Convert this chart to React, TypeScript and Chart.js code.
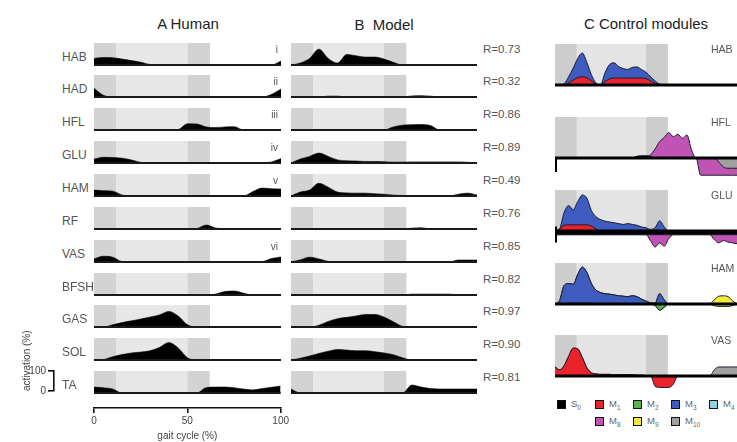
import React, { useEffect, useRef } from 'react';
import { Chart, registerables } from 'chart.js';

Chart.register(...registerables);

const FONT = "'Liberation Sans', Arial, Helvetica, sans-serif";

// ---------------- data ----------------
const GAIT_AB = [0, 5, 10, 15, 20, 25, 30, 35, 40, 45, 50, 55, 60, 65, 70, 75, 80, 85, 90, 95, 100];
const GAIT_C = [0, 2.5, 5, 7.5, 10, 12.5, 15, 17.5, 20, 22.5, 25, 27.5, 30, 32.5, 35, 37.5, 40, 42.5, 45, 47.5, 50,
  52.5, 55, 57.5, 60, 62.5, 65, 67.5, 70, 72.5, 75, 77.5, 80, 82.5, 85, 87.5, 90, 92.5, 95, 97.5, 100];

const MUSCLES = ['HAB', 'HAD', 'HFL', 'GLU', 'HAM', 'RF', 'VAS', 'BFSH', 'GAS', 'SOL', 'TA'];
const R_VALUES = ['R=0.73', 'R=0.32', 'R=0.86', 'R=0.89', 'R=0.49', 'R=0.76', 'R=0.85', 'R=0.82', 'R=0.97', 'R=0.90', 'R=0.81'];
const ROMAN = ['i', 'ii', 'iii', 'iv', 'v', '', 'vi', '', '', '', ''];
const X_TICKS = [0, 50, 100];

// Human EMG (activation %)
const HUMAN_HAB = [30, 34, 33, 27, 20, 13, 2, 0, 0, 0, 0, 0, 0, 0, 0, 0, 0, 0, 0, 0, 18];
const HUMAN_HAD = [40, 8, 0, 0, 0, 0, 0, 0, 0, 0, 0, 0, 0, 0, 0, 0, 0, 0, 0, 12, 36];
const HUMAN_HFL = [0, 0, 0, 0, 0, 0, 0, 0, 0, 2, 28, 27, 14, 11, 14, 15, 0, 0, 0, 0, 0];
const HUMAN_GLU = [18, 26, 25, 22, 14, 3, 0, 0, 0, 0, 0, 0, 0, 0, 0, 0, 0, 0, 0, 5, 20];
const HUMAN_HAM = [27, 24, 22, 5, 0, 0, 0, 0, 0, 0, 0, 0, 0, 0, 0, 0, 0, 20, 36, 33, 32];
const HUMAN_RF = [0, 0, 0, 0, 0, 0, 0, 0, 0, 0, 0, 2, 18, 5, 0, 0, 0, 0, 0, 0, 0];
const HUMAN_VAS = [14, 26, 22, 2, 0, 0, 0, 0, 0, 0, 0, 0, 0, 0, 0, 0, 0, 0, 2, 16, 23];
const HUMAN_BFSH = [0, 0, 0, 0, 0, 0, 0, 0, 0, 0, 0, 0, 0, 4, 16, 18, 8, 0, 0, 0, 0];
const HUMAN_GAS = [0, 0, 10, 20, 28, 36, 45, 55, 71, 50, 10, 0, 0, 0, 0, 0, 0, 0, 0, 0, 0];
const HUMAN_SOL = [0, 2, 15, 25, 32, 36, 42, 57, 79, 55, 10, 0, 0, 0, 0, 0, 0, 0, 0, 0, 0];
const HUMAN_TA = [27, 24, 18, 0, 0, 0, 0, 0, 0, 0, 0, 0, 24, 27, 27, 24, 18, 14, 20, 26, 32];

// Model muscle activations (activation %)
const MODEL_HAB = [0, 9, 30, 72, 30, 9, 48, 42, 36, 36, 27, 12, 0, 0, 0, 0, 0, 0, 0, 0, 0];
const MODEL_HAD = [0, 0, 0, 0, 4, 4, 0, 0, 0, 0, 0, 0, 0, 5, 6, 4, 0, 0, 0, 0, 0];
const MODEL_HFL = [0, 0, 0, 0, 0, 0, 0, 0, 0, 0, 0, 14, 22, 24, 25, 20, 0, 0, 0, 0, 0];
const MODEL_GLU = [0, 18, 30, 45, 30, 14, 10, 9, 7, 7, 6, 4, 4, 5, 5, 5, 5, 5, 5, 3, 0];
const MODEL_HAM = [0, 18, 27, 58, 40, 18, 14, 13, 13, 10, 8, 4, 2, 0, 0, 0, 0, 0, 8, 13, 5];
const MODEL_RF = [0, 0, 0, 0, 0, 0, 0, 0, 0, 0, 0, 0, 0, 4, 6, 0, 0, 0, 0, 0, 0];
const MODEL_VAS = [0, 10, 22, 14, 3, 0, 0, 0, 0, 0, 0, 0, 0, 0, 0, 0, 0, 0, 9, 9, 9];
const MODEL_BFSH = [0, 0, 0, 0, 0, 0, 0, 0, 0, 0, 0, 0, 0, 4, 4, 4, 4, 4, 0, 0, 0];
const MODEL_GAS = [0, 0, 0, 8, 25, 38, 44, 50, 57, 57, 45, 24, 3, 0, 0, 0, 0, 0, 0, 0, 0];
const MODEL_SOL = [0, 8, 18, 30, 40, 48, 45, 42, 42, 38, 32, 24, 10, 0, 0, 0, 0, 0, 0, 0, 0];
const MODEL_TA = [18, 0, 0, 0, 0, 0, 0, 0, 0, 0, 0, 0, 0, 36, 27, 20, 18, 18, 18, 18, 18];

const HUMAN = [HUMAN_HAB, HUMAN_HAD, HUMAN_HFL, HUMAN_GLU, HUMAN_HAM, HUMAN_RF, HUMAN_VAS, HUMAN_BFSH, HUMAN_GAS, HUMAN_SOL, HUMAN_TA];
const MODEL = [MODEL_HAB, MODEL_HAD, MODEL_HFL, MODEL_GLU, MODEL_HAM, MODEL_RF, MODEL_VAS, MODEL_BFSH, MODEL_GAS, MODEL_SOL, MODEL_TA];

// Control-module contributions (stacked)
const C_HAB_M1 = [0, 0, 0, 5, 12, 18, 20, 18, 10, 2, 0, 8, 15, 17, 17, 17, 17, 17, 17, 17, 16, 10, 4, 0, 0, 0, 0, 0, 0, 0, 0, 0, 0, 0, 0, 0, 0, 0, 0, 0, 0];
const C_HAB_M3 = [0, 0, 3, 15, 29, 47, 58, 37, 15, 3, 0, 22, 35, 37, 28, 23, 21, 26, 27, 21, 15, 10, 6, 2, 0, 0, 0, 0, 0, 0, 0, 0, 0, 0, 0, 0, 0, 0, 0, 0, 0];

const C_HFL_S0 = [0, 0, 0, 0, 0, 0, 0, 0, 0, 0, 0, 0, 0, 0, 0, 0, 0, 0, 4, 5, 5, 4, 0, 0, 0, 0, 0, 0, 0, 0, 0, 0, 0, 0, 0, 0, 0, 0, 0, 0, 0];
const C_HFL_M8_POS = [0, 0, 0, 0, 0, 0, 0, 0, 0, 0, 0, 0, 0, 0, 0, 0, 0, 0, 0, 0, 0, 4, 22, 40, 50, 62, 52, 58, 48, 56, 20, 0, 0, 0, 0, 0, 0, 0, 0, 0, 0];
const C_HFL_M10_NEG = [0, 0, 0, 0, 0, 0, 0, 0, 0, 0, 0, 0, 0, 0, 0, 0, 0, 0, 0, 0, 0, 0, 0, 0, 0, 0, 0, 0, 0, 0, 0, 0, 0, 0, 0, 0, -10, -22, -25, -25, -25];
const C_HFL_M8_NEG = [0, 0, 0, 0, 0, 0, 0, 0, 0, 0, 0, 0, 0, 0, 0, 0, 0, 0, 0, 0, 0, 0, 0, 0, 0, 0, 0, 0, 0, 0, 0, 0, -42, -42, -42, -42, -32, -20, -17, -17, -17];

const C_GLU_M1 = [0, 5, 14, 15, 15, 15, 15, 15, 12, 5, 0, 0, 0, 0, 0, 0, 0, 0, 0, 0, 0, 0, 0, 0, 0, 0, 0, 0, 0, 0, 0, 0, 0, 0, 0, 0, 0, 0, 0, 0, 0];
const C_GLU_M3 = [0, 0, 31, 47, 37, 57, 73, 65, 38, 30, 28, 24, 22, 20, 18, 16, 18, 16, 14, 10, 8, 4, 8, 25, 10, 0, 0, 0, 0, 0, 0, 0, 0, 0, 0, 0, 0, 0, 0, 0, 0];
const C_GLU_S0_NEG = [-9, -9, -9, -9, -9, -9, -9, -9, -9, -9, -9, -9, -9, -9, -9, -9, -9, -9, -9, -9, -9, -9, -9, -9, -9, -9, -9, -9, -9, -9, -9, -9, -9, -9, -9, -9, -9, -9, -9, -9, -9];
const C_GLU_M8_NEG = [0, 0, 0, 0, 0, 0, 0, 0, 0, 0, 0, 0, 0, 0, 0, 0, 0, 0, 0, 0, 0, -15, -30, -20, -28, -10, 0, 0, 0, 0, 0, 0, 0, 0, 0, -12, -20, -14, -18, -20, -22];

const C_HAM_M2_POS = [0, 0, 0, 2, 2, 2, 2, 2, 2, 0, 0, 0, 0, 0, 0, 0, 0, 0, 0, 0, 0, 0, 0, 0, 0, 0, 0, 0, 0, 0, 0, 0, 0, 0, 0, 0, 0, 0, 0, 0, 0];
const C_HAM_M3 = [0, 8, 45, 48, 46, 70, 88, 75, 48, 34, 28, 25, 24, 22, 20, 19, 18, 20, 18, 12, 7, 3, 2, 25, 10, 0, 0, 0, 0, 0, 0, 0, 0, 0, 0, 0, 0, 0, 0, 0, 0];
const C_HAM_M9_POS = [0, 0, 0, 0, 0, 0, 0, 0, 0, 0, 0, 0, 0, 0, 0, 0, 0, 0, 0, 0, 0, 0, 0, 0, 0, 0, 0, 0, 0, 0, 0, 0, 0, 0, 0, 10, 19, 20, 18, 8, 0];
const C_HAM_M2_NEG = [0, 0, 0, 0, 0, 0, 0, 0, 0, 0, 0, 0, 0, 0, 0, 0, 0, 0, 0, 0, 0, 0, -4, -15, -8, 0, 0, 0, 0, 0, 0, 0, 0, 0, 0, 0, 0, 0, 0, 0, 0];
const C_HAM_M9_NEG = [0, 0, 0, 0, 0, 0, 0, 0, 0, 0, 0, 0, 0, 0, 0, 0, 0, 0, 0, 0, 0, 0, 0, 0, 0, 0, 0, 0, 0, 0, 0, 0, 0, 0, 0, -4, -6, -6, -6, -4, 0];

const C_VAS_M1_POS = [22, 15, 25, 48, 68, 66, 45, 20, 8, 5, 4, 4, 4, 3, 3, 3, 3, 3, 2, 2, 1, 0, 0, 0, 0, 0, 0, 0, 0, 0, 0, 0, 0, 0, 0, 0, 0, 0, 0, 0, 0];
const C_VAS_M10_POS = [0, 0, 0, 0, 0, 0, 0, 0, 0, 0, 0, 0, 0, 0, 0, 0, 0, 0, 0, 0, 0, 0, 0, 0, 0, 0, 0, 0, 0, 0, 0, 0, 0, 0, 0, 15, 22, 22, 22, 22, 22];
const C_VAS_M1_NEG = [0, 0, 0, 0, 0, 0, 0, 0, 0, 0, 0, 0, 0, 0, 0, 0, 0, 0, 0, 0, 0, 0, -25, -28, -28, -28, -20, 0, 0, 0, 0, 0, 0, 0, 0, 0, 0, 0, 0, 0, 0];

const MODULE_KEYS = ['S0', 'M1', 'M2', 'M3', 'M4', 'M8', 'M9', 'M10'];
const MODULE_COLORS: Record<string, string> = {
  S0: '#000000', M1: '#e8232b', M2: '#5db04e', M3: '#3e5bbf', M4: '#8ed3dc',
  M8: '#c054b4', M9: '#f2ec3c', M10: '#a0a0a0',
};

type Layer = [number[], string, string];
const C_ROWS: { label: string; tick?: [number, number]; layers: Layer[] }[] = [
  { label: 'HAB', layers: [[C_HAB_M1, 'M1', 'pos'], [C_HAB_M3, 'M3', 'pos']] },
  { label: 'HFL', tick: [0, -34], layers: [[C_HFL_S0, 'S0', 'pos'], [C_HFL_M8_POS, 'M8', 'pos'], [C_HFL_M10_NEG, 'M10', 'neg'], [C_HFL_M8_NEG, 'M8', 'neg']] },
  { label: 'GLU', tick: [11, -28], layers: [[C_GLU_M1, 'M1', 'pos'], [C_GLU_M3, 'M3', 'pos'], [C_GLU_S0_NEG, 'S0', 'neg'], [C_GLU_M8_NEG, 'M8', 'neg']] },
  { label: 'HAM', layers: [[C_HAM_M2_POS, 'M2', 'pos'], [C_HAM_M3, 'M3', 'pos'], [C_HAM_M9_POS, 'M9', 'pos'], [C_HAM_M2_NEG, 'M2', 'neg'], [C_HAM_M9_NEG, 'M9', 'neg']] },
  { label: 'VAS', layers: [[C_VAS_M1_POS, 'M1', 'pos'], [C_VAS_M10_POS, 'M10', 'pos'], [C_VAS_M1_NEG, 'M1', 'neg']] },
];

const PHASES = [
  { from: 0, to: 12, tone: 'dark' },
  { from: 12, to: 50, tone: 'light' },
  { from: 50, to: 62, tone: 'dark' },
];

// ---------------- layout ----------------
const A_LEFT = 94, A_WIDTH = 187;
const B_LEFT = 291, B_WIDTH = 186;
const C_LEFT = 555, C_WIDTH = 182;
const ROW_H = 22;
const A_BASE = [65, 97, 130, 163, 196, 229, 262, 295, 327, 360, 393];
const C_BASE = [85, 158, 231, 304, 376];
const C_H = 41;
const C_BELOW = 22;

// ---------------- plugin ----------------
const phasePlugin = {
  id: 'phase',
  beforeDatasetsDraw(chart: any, _a: any, o: any) {
    const { ctx } = chart;
    const x = chart.scales.x, y = chart.scales.y;
    const top = y.getPixelForValue(100), bot = y.getPixelForValue(0);
    ctx.save();
    for (const p of PHASES) {
      const x0 = x.getPixelForValue(p.from), x1 = x.getPixelForValue(p.to);
      ctx.fillStyle = p.tone === 'dark' ? o.dark : o.light;
      ctx.fillRect(x0, top, x1 - x0, bot - top);
    }
    ctx.restore();
  },
  afterDatasetsDraw(chart: any, _a: any, o: any) {
    const { ctx } = chart;
    const x = chart.scales.x, y = chart.scales.y;
    const y0 = y.getPixelForValue(0);
    ctx.save();
    ctx.strokeStyle = o.lineColor;
    ctx.lineWidth = o.lineWidth;
    ctx.beginPath();
    ctx.moveTo(x.getPixelForValue(0), y0);
    ctx.lineTo(x.getPixelForValue(100), y0);
    ctx.stroke();
    if (o.tick) {
      const xt = x.getPixelForValue(0) + 1;
      ctx.lineWidth = 2;
      ctx.beginPath();
      ctx.moveTo(xt, y.getPixelForValue(o.tick[0]));
      ctx.lineTo(xt, y.getPixelForValue(o.tick[1]));
      ctx.stroke();
    }
    ctx.restore();
  },
};

const AB_PHASE = { light: '#e7e7e7', dark: '#d3d3d3', lineColor: '#1a1a1a', lineWidth: 1.8 };
const C_PHASE = { light: '#e4e4e4', dark: '#cdcdcd', lineColor: '#000', lineWidth: 3 };

const baseOptions = () => ({
  animation: false,
  responsive: false,
  maintainAspectRatio: false,
  events: [],
  plugins: { legend: { display: false }, tooltip: { enabled: false } },
});

function rowConfig(values: number[], yMin: number, xAxis?: any) {
  return {
    type: 'line',
    data: {
      datasets: [{
        data: GAIT_AB.map((x, i) => ({ x, y: values[i] })),
        fill: 'origin',
        backgroundColor: '#000',
        borderColor: '#000',
        borderWidth: 0.6,
        pointRadius: 0,
        cubicInterpolationMode: 'monotone',
      }],
    },
    options: {
      ...baseOptions(),
      layout: { padding: xAxis ? { left: 10, right: 10, top: 0, bottom: 0 } : 0 },
      plugins: { legend: { display: false }, tooltip: { enabled: false }, phase: AB_PHASE },
      scales: {
        x: xAxis || { type: 'linear', min: 0, max: 100, display: false },
        y: { type: 'linear', min: yMin, max: 100, display: false },
      },
    },
    plugins: [phasePlugin],
  };
}

function cConfig(row: { tick?: [number, number]; layers: Layer[] }) {
  return {
    type: 'line',
    data: {
      datasets: row.layers.map(([vals, key, stack]) => ({
        data: GAIT_C.map((x, i) => ({ x, y: vals[i] })),
        stack,
        fill: 'origin',
        backgroundColor: MODULE_COLORS[key],
        borderColor: '#1c1c2a',
        borderWidth: 1,
        pointRadius: 0,
        cubicInterpolationMode: 'monotone',
      })),
    },
    options: {
      ...baseOptions(),
      layout: { padding: 0 },
      plugins: { legend: { display: false }, tooltip: { enabled: false }, phase: { ...C_PHASE, tick: row.tick } },
      scales: {
        x: { type: 'linear', min: 0, max: 100, display: false },
        y: { type: 'linear', stacked: true, min: -(C_BELOW / C_H) * 100, max: 100, display: false },
      },
    },
    plugins: [phasePlugin],
  };
}

const gaitAxis = {
  type: 'linear', min: 0, max: 100, display: true, position: 'bottom',
  afterFit: (s: any) => { s.height = 34; },
  afterBuildTicks: (s: any) => { s.ticks = X_TICKS.map((v) => ({ value: v })); },
  border: { display: true, color: '#111', width: 1.6 },
  grid: { drawOnChartArea: false, drawTicks: true, tickLength: 5, color: '#111', lineWidth: 1.6 },
  ticks: { color: '#444', font: { family: FONT, size: 10 }, padding: 2, maxRotation: 0, autoSkip: false },
  title: { display: true, text: 'gait cycle (%)', color: '#444', font: { family: FONT, size: 10 }, padding: { top: 0, bottom: 0 } },
};

function scaleBarConfig() {
  return {
    type: 'line',
    data: { datasets: [] },
    options: {
      ...baseOptions(),
      layout: { padding: { top: 50, bottom: 6, left: 0, right: 0 } },
      scales: {
        x: { type: 'linear', min: 0, max: 1, display: false },
        y: {
          type: 'linear', min: 0, max: 100, position: 'left',
          afterFit: (s: any) => { s.width = 40; },
          afterBuildTicks: (s: any) => { s.ticks = [{ value: 0 }, { value: 100 }]; },
          border: { display: true, color: '#111', width: 1.6 },
          grid: { drawOnChartArea: false, tickLength: 6, color: '#111', lineWidth: 1.6 },
          ticks: { color: '#444', font: { family: FONT, size: 10 }, padding: 2 },
          title: { display: true, text: 'activation (%)', align: 'start', color: '#444', font: { family: FONT, size: 10 }, padding: 7 },
        },
      },
    },
  };
}

// ---------------- components ----------------
function MiniChart({ left, top, width, height, make }: { left: number; top: number; width: number; height: number; make: () => any }) {
  const ref = useRef<HTMLCanvasElement | null>(null);
  useEffect(() => {
    if (!ref.current) return;
    const chart = new Chart(ref.current, make());
    return () => chart.destroy();
  }, []);
  return (
    <canvas
      ref={ref}
      width={width}
      height={height}
      style={{ position: 'absolute', left, top, width, height, display: 'block' }}
    />
  );
}

function Label({ x, y, text, size, color = '#555', align = 'left' }: { x: number; y: number; text: React.ReactNode; size: number; color?: string; align?: string }) {
  const tx = align === 'left' ? '0' : align === 'right' ? '-100%' : '-50%';
  return (
    <div style={{ position: 'absolute', left: x, top: y, transform: `translate(${tx}, -50%)`, fontSize: size, lineHeight: 1, color, whiteSpace: 'pre', fontFamily: FONT }}>
      {text}
    </div>
  );
}

const LEGEND_POS: Record<string, [number, number]> = {
  S0: [557, 400], M1: [595, 400], M2: [633, 400], M3: [671, 400], M4: [709, 400],
  M8: [595, 417], M9: [633, 417], M10: [671, 417],
};

export default function App() {
  const last = MUSCLES.length - 1;
  return (
    <div style={{ position: 'absolute', left: 0, top: 0, width: 737, height: 442, overflow: 'hidden', background: '#fff', fontFamily: FONT }}>
      {MUSCLES.map((m, i) => {
        const base = A_BASE[i];
        if (i === last) {
          const yMin = -(15 / ROW_H) * 100;
          return (
            <MiniChart key={'a' + m} left={A_LEFT - 10} top={base - ROW_H} width={A_WIDTH + 20} height={ROW_H + 15 + 34}
              make={() => rowConfig(HUMAN[i], yMin, gaitAxis)} />
          );
        }
        return (
          <MiniChart key={'a' + m} left={A_LEFT} top={base - ROW_H} width={A_WIDTH} height={ROW_H + 2}
            make={() => rowConfig(HUMAN[i], -(2 / ROW_H) * 100)} />
        );
      })}
      {MUSCLES.map((m, i) => (
        <MiniChart key={'b' + m} left={B_LEFT} top={A_BASE[i] - ROW_H} width={B_WIDTH} height={ROW_H + 2}
          make={() => rowConfig(MODEL[i], -(2 / ROW_H) * 100)} />
      ))}
      {C_ROWS.map((row, i) => (
        <MiniChart key={'c' + row.label} left={C_LEFT} top={C_BASE[i] - C_H} width={C_WIDTH} height={C_H + C_BELOW}
          make={() => cConfig(row)} />
      ))}
      <MiniChart left={14} top={A_BASE[last] - ROW_H - 50} width={42} height={50 + ROW_H + 6} make={scaleBarConfig} />

      <Label x={188} y={23} text="A Human" size={15} color="#222" align="center" />
      <Label x={384} y={24} text="B  Model" size={15} color="#222" align="center" />
      <Label x={646} y={23} text="C Control modules" size={15} color="#222" align="center" />

      {MUSCLES.map((m, i) => (
        <Label key={'l' + m} x={62} y={A_BASE[i] - 8.5} text={m} size={12} />
      ))}
      {ROMAN.map((r, i) => r ? (
        <Label key={'r' + i} x={278} y={A_BASE[i] - 15} text={r} size={10} align="right" />
      ) : null)}
      {R_VALUES.map((r, i) => (
        <Label key={'R' + i} x={483} y={A_BASE[i] - 15} text={r} size={11.5} />
      ))}
      {C_ROWS.map((row, i) => (
        <Label key={'cl' + row.label} x={711} y={C_BASE[i] - C_H + 5} text={row.label} size={10.5} />
      ))}

      {MODULE_KEYS.map((k) => {
        const [lx, ly] = LEGEND_POS[k];
        return (
          <React.Fragment key={'lg' + k}>
            <div style={{ position: 'absolute', left: lx, top: ly, width: 9, height: 9, boxSizing: 'border-box', border: '1.5px solid #111', background: MODULE_COLORS[k] }} />
            <div style={{ position: 'absolute', left: lx + 14, top: ly - 1, fontSize: 9.5, lineHeight: 1, color: '#666', fontFamily: FONT, whiteSpace: 'nowrap' }}>
              {k[0]}<sub style={{ fontSize: 6.5, verticalAlign: 'sub', lineHeight: 0 }}>{k.slice(1)}</sub>
            </div>
          </React.Fragment>
        );
      })}
    </div>
  );
}
